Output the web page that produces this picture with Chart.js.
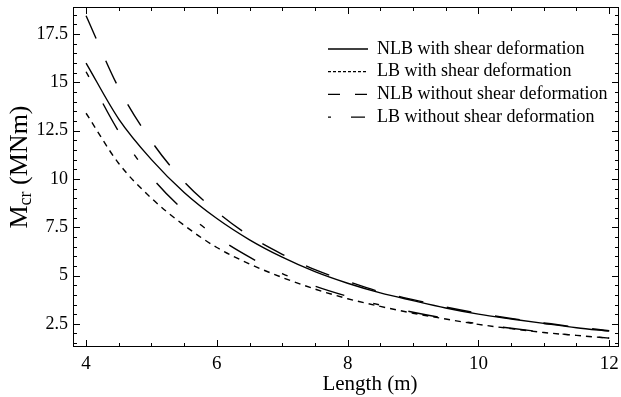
<!DOCTYPE html>
<html>
<head>
<meta charset="utf-8">
<script src="https://cdn.jsdelivr.net/npm/chart.js@4.4.1/dist/chart.umd.min.js"></script>
<style>
  html, body { margin: 0; padding: 0; background: #fff; }
  #wrap { width: 621px; height: 397px; }
</style>
</head>
<body>
<div id="wrap"><canvas id="bucklingChart"></canvas></div>
<script>
// beam length (m) and critical moment (MNm)
const lengths = [4, 4.5, 5, 5.5, 6, 6.5, 7, 7.5, 8, 8.5, 9, 9.5, 10, 10.5, 11, 11.5, 12];
const nlbShear   = [16.0, 13.1, 11.0, 9.3, 7.95, 6.85, 5.95, 5.2, 4.6, 4.1, 3.7, 3.32, 3.0, 2.75, 2.52, 2.3, 2.12];
const lbShear    = [13.4, 10.8, 9.0, 7.6, 6.45, 5.6, 4.9, 4.3, 3.8, 3.4, 3.05, 2.75, 2.47, 2.25, 2.05, 1.9, 1.76];
const nlbNoShear = [18.45, 14.7, 11.95, 9.85, 8.3, 7.05, 6.1, 5.3, 4.7, 4.15, 3.75, 3.37, 3.05, 2.78, 2.55, 2.33, 2.15];
const lbNoShear  = [15.55, 12.45, 10.1, 8.35, 7.0, 5.95, 5.1, 4.45, 3.92, 3.47, 3.1, 2.78, 2.5, 2.27, 2.07, 1.9, 1.76];

const seriesNames = [
  'NLB with shear deformation',
  'LB with shear deformation',
  'NLB without shear deformation',
  'LB without shear deformation'
];
const xTicks = [4, 6, 8, 10, 12];
const yTicks = [2.5, 5, 7.5, 10, 12.5, 15, 17.5];
const xTitle = 'Length (m)';

const serif = '"Liberation Serif", "DejaVu Serif", serif';
const pts = vals => lengths.map((l, i) => ({ x: l, y: vals[i] }));

const styles = [
  { dash: [], legendDash: [] },
  { dash: [6, 5], legendDash: [3, 2] },
  { dash: [25, 24], legendDash: [12, 15] },
  { dash: [6, 30, 30, 30], legendDash: [3, 20, 14, 100] }
];
const series = [nlbShear, lbShear, nlbNoShear, lbNoShear];

// frame with inward ticks, legend and axis titles
const frame = {
  id: 'frame',
  afterDraw(chart) {
    const { ctx, chartArea: a, scales: { x, y } } = chart;
    ctx.save();
    ctx.strokeStyle = '#000';
    ctx.lineWidth = 1;
    ctx.setLineDash([]);
    ctx.strokeRect(a.left + 0.5, a.top + 0.5, a.right - a.left - 1, a.bottom - a.top - 1);

    ctx.beginPath();
    for (let v = 4; v <= 12.001; v += 0.5) {
      const px = Math.round(x.getPixelForValue(v)) + 0.5;
      const len = xTicks.includes(v) ? 7 : 4;
      ctx.moveTo(px, a.bottom); ctx.lineTo(px, a.bottom - len);
      ctx.moveTo(px, a.top); ctx.lineTo(px, a.top + len);
    }
    for (let v = 1.5; v <= 18.501; v += 0.5) {
      const py = Math.round(y.getPixelForValue(v)) + 0.5;
      const len = yTicks.includes(v) ? 7 : 4;
      ctx.moveTo(a.left, py); ctx.lineTo(a.left + len, py);
      ctx.moveTo(a.right, py); ctx.lineTo(a.right - len, py);
    }
    ctx.stroke();

    // legend
    ctx.font = '18px ' + serif;
    ctx.textBaseline = 'middle';
    ctx.fillStyle = '#000';
    ctx.lineWidth = 1.3;
    seriesNames.forEach((name, i) => {
      const ly = 49 + i * 22.7;
      ctx.beginPath();
      ctx.setLineDash(styles[i].legendDash);
      ctx.moveTo(328, ly); ctx.lineTo(368, ly);
      ctx.stroke();
      ctx.fillText(name, 377, ly);
    });
    ctx.setLineDash([]);

    // x title
    ctx.font = '21px ' + serif;
    ctx.textAlign = 'center';
    ctx.fillText(xTitle, 370, 384);

    // y title with subscript
    ctx.translate(20, 167);
    ctx.rotate(-Math.PI / 2);
    ctx.textAlign = 'left';
    const big = '26px ' + serif, small = '18px ' + serif;
    ctx.font = big; const wM = ctx.measureText('M').width;
    const wRest = ctx.measureText(' (MNm)').width;
    ctx.font = small; const wSub = ctx.measureText('cr').width;
    let tx = -(wM + wSub + wRest) / 2;
    ctx.font = big; ctx.fillText('M', tx, 0); tx += wM;
    ctx.font = small; ctx.fillText('cr', tx, 6); tx += wSub;
    ctx.font = big; ctx.fillText(' (MNm)', tx, 0);
    ctx.restore();
  }
};

new Chart(document.getElementById('bucklingChart'), {
  type: 'line',
  data: {
    datasets: series.map((vals, i) => ({
      label: seriesNames[i],
      data: pts(vals),
      borderColor: '#000',
      borderWidth: 1.4,
      borderDash: styles[i].dash,
      pointRadius: 0,
      fill: false,
      cubicInterpolationMode: 'monotone'
    }))
  },
  options: {
    responsive: true,
    maintainAspectRatio: false,
    animation: false,
    layout: { autoPadding: false, padding: { top: 7, right: 2, left: 0, bottom: 0 } },
    plugins: { legend: { display: false }, tooltip: { enabled: false } },
    scales: {
      x: {
        type: 'linear',
        min: 3.8,
        max: 12.15,
        grid: { display: false, drawTicks: false },
        border: { display: false },
        afterBuildTicks: s => { s.ticks = xTicks.map(v => ({ value: v })); },
        afterFit: s => { s.height = 50; s.paddingLeft = 0; s.paddingRight = 0; },
        ticks: { color: '#000', padding: 6, maxRotation: 0, font: { family: serif, size: 19 }, callback: v => String(v) }
      },
      y: {
        min: 1.3,
        max: 18.9,
        grid: { display: false, drawTicks: false },
        border: { display: false },
        afterBuildTicks: s => { s.ticks = yTicks.map(v => ({ value: v })); },
        afterFit: s => { s.width = 73; s.paddingTop = 0; s.paddingBottom = 0; },
        ticks: { color: '#000', padding: 5, font: { family: serif, size: 18 }, callback: v => String(v) }
      }
    }
  },
  plugins: [frame]
});
</script>
</body>
</html>
